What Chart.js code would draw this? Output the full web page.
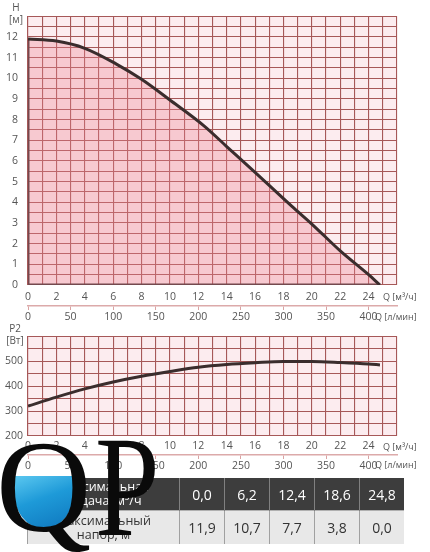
<!DOCTYPE html>
<html><head><meta charset="utf-8">
<script src="https://cdn.jsdelivr.net/npm/chart.js@4"></script>
<style>
html,body{margin:0;padding:0;background:#fff;width:430px;height:552px;overflow:hidden;font-family:"Open Sans",sans-serif;}
#wrap{position:relative;width:430px;height:552px;}
canvas{position:absolute;left:0;}
#c1{top:0;}
#c2{top:325px;}
.lbl{position:absolute;font-size:10px;color:#555;white-space:nowrap;line-height:12px;}
.unit{font-size:9px;}
.ctr{text-align:center;width:30px;}
#tbl{position:absolute;left:27px;top:478px;border-collapse:collapse;table-layout:fixed;}
#tbl td{padding:0;text-align:center;font-size:14px;}
#tbl td.lab{width:151px;font-size:12.5px;line-height:14px;}
#tbl td.v{width:44px;}
#tbl tr.dark td{background:#3d3d3d;color:#fff;height:32px;border-left:1px solid #808080;}
#tbl tr.light td{background:#e8e8e8;color:#333;height:33px;border-left:1px solid #a0a0a0;border-top:1px solid #b0b0b0;}
#logo{position:absolute;left:0;top:0;width:430px;height:552px;pointer-events:none;}
#water{position:absolute;left:13px;top:447px;width:62px;height:82px;border-radius:50%;overflow:hidden;}
#water div{position:absolute;left:0;top:29px;width:62px;height:60px;background:linear-gradient(160deg,#5cc8f0 0%,#1e9ad8 40%,#0b6fb8 100%);}
.glyph{position:absolute;font-family:"Liberation Serif","DejaVu Serif",serif;color:#0a0a0a;transform-origin:0 0;}
#lq{left:-4px;top:421px;font-size:132px;line-height:132px;}
#lp{left:95px;top:414px;font-size:145px;line-height:145px;transform:scaleX(0.8);}
</style></head>
<body><div id="wrap">
<canvas id="c1" width="430" height="325"></canvas>
<canvas id="c2" width="430" height="150"></canvas>

<div class="lbl ctr" style="left:1px;top:1px;">H</div>
<div class="lbl ctr" style="left:1px;top:13px;">[м]</div>
<div class="lbl unit" style="left:383px;top:291px;">Q [м³/ч]</div>
<div class="lbl unit" style="left:375px;top:311px;">Q [л/мин]</div>
<div class="lbl ctr" style="left:0px;top:322px;">P2</div>
<div class="lbl ctr" style="left:0px;top:334px;">[Вт]</div>
<div class="lbl unit" style="left:383px;top:441px;">Q [м³/ч]</div>
<div class="lbl unit" style="left:375px;top:459px;">Q [л/мин]</div>

<table id="tbl">
<tr class="dark"><td class="lab">Максимальная<br>подача, м³/ч</td><td class="v" id="f0"></td><td class="v" id="f1"></td><td class="v" id="f2"></td><td class="v" id="f3"></td><td class="v" id="f4"></td></tr>
<tr class="light"><td class="lab">Максимальный<br>напор, м</td><td class="v" id="h0"></td><td class="v" id="h1"></td><td class="v" id="h2"></td><td class="v" id="h3"></td><td class="v" id="h4"></td></tr>
</table>

<div id="logo">
<div id="water"><div></div></div>
<span class="glyph" id="lq">Q</span><span class="glyph" id="lp">P</span>
</div>
</div>
<script>
// ---- data ----
const qFlow = [0, 2, 4, 6.2, 8, 10, 12.4, 14, 16, 18.6, 20, 22, 24, 24.8];
const head  = [11.9, 11.8, 11.45, 10.7, 9.95, 8.95, 7.7, 6.7, 5.45, 3.8, 2.95, 1.65, 0.5, 0];
const qPower = [0, 2, 4, 6, 8, 10, 12, 14, 16, 18, 20, 22, 24, 24.8];
const power  = [320, 356, 389, 417, 440, 459, 476, 487, 494, 499, 499, 495, 489, 485];
const lpmTicks = [0, 50, 100, 150, 200, 250, 300, 350, 400];
const tableFlow = ['0,0', '6,2', '12,4', '18,6', '24,8'];
const tableHead = ['11,9', '10,7', '7,7', '3,8', '0,0'];
const qMax = 26;             // m3/h
const lpmPerM3h = 1000 / 60; // l/min per m3/h

tableFlow.forEach((v, i) => document.getElementById('f' + i).textContent = v);
tableHead.forEach((v, i) => document.getElementById('h' + i).textContent = v);

const GRID = '#a65858';
const TICK = '#555';
const FONT = {family: '"Open Sans", sans-serif', size: 10.5};

const bgPlugin = {
  id: 'bg',
  beforeDraw(chart) {
    const {ctx, chartArea: a} = chart;
    ctx.save();
    ctx.fillStyle = '#fcecef';
    ctx.fillRect(a.left, a.top, a.right - a.left, a.bottom - a.top);
    ctx.restore();
  }
};

function xScales(xTickPad, x2Height, xHeight) {
  return {
    x: {
      type: 'linear', min: 0, max: qMax,
      ticks: {stepSize: 1, autoSkip: false, maxRotation: 0, padding: xTickPad, color: TICK, font: FONT,
        callback: v => (v % 2 === 0 && v <= 24) ? v : ''},
      grid: {color: GRID, lineWidth: 1.1, drawTicks: false},
      border: {color: GRID, width: 1.1},
      afterFit(s) { s.height = xHeight; }
    },
    x2: {
      type: 'linear', position: 'bottom', min: 0, max: qMax * lpmPerM3h,
      afterBuildTicks(s) { s.ticks = lpmTicks.map(v => ({value: v})); },
      ticks: {autoSkip: false, maxRotation: 0, padding: 1, color: TICK, font: FONT},
      grid: {drawOnChartArea: false, drawTicks: true, tickLength: 4, color: '#d9a3a3'},
      border: {color: '#dcaaaa', width: 1.5},
      afterFit(s) { s.height = x2Height; }
    }
  };
}

// ---- chart 1: head ----
new Chart(document.getElementById('c1'), {
  type: 'scatter',
  data: {
    datasets: [
      {
        data: qFlow.map((q, i) => ({x: q, y: head[i]})),
        showLine: true, borderColor: '#3a2d2d', borderWidth: 3, pointRadius: 0,
        cubicInterpolationMode: 'monotone',
        fill: 'origin', backgroundColor: 'rgba(238,130,145,0.33)'
      },
      {
        data: [{x: qFlow[0], y: 0}, {x: qFlow[0], y: head[0]}],
        showLine: true, borderColor: '#3a2d2d', borderWidth: 3, pointRadius: 0, fill: false
      },
      {
        data: [{x: qFlow[0], y: 0}, {x: qFlow[qFlow.length - 1], y: 0}],
        showLine: true, borderColor: '#3a2d2d', borderWidth: 3, pointRadius: 0, fill: false
      }
    ]
  },
  options: {
    responsive: false, animation: false,
    layout: {padding: {top: 11, left: 0, right: 33, bottom: 0}},
    plugins: {legend: {display: false}, tooltip: {enabled: false}},
    scales: Object.assign(xScales(6, 19, 21), {
      y: {
        type: 'linear', min: 0, max: 13,
        ticks: {stepSize: 0.5, autoSkip: false, padding: 10, color: TICK, font: FONT,
          callback: v => (Number.isInteger(v) && v <= 12) ? v : ''},
        grid: {color: GRID, lineWidth: 1.1, drawTicks: false},
        border: {color: GRID, width: 1.1},
        afterFit(s) { s.width = 28; }
      }
    })
  },
  plugins: [bgPlugin]
});

// ---- chart 2: power ----
new Chart(document.getElementById('c2'), {
  type: 'scatter',
  data: {
    datasets: [{
      data: qPower.map((q, i) => ({x: q, y: power[i]})),
      showLine: true, borderColor: '#3a2d2d', borderWidth: 3, pointRadius: 0,
      cubicInterpolationMode: 'monotone', fill: false
    }]
  },
  options: {
    responsive: false, animation: false,
    layout: {padding: {top: 4, left: 0, right: 33, bottom: 0}},
    plugins: {legend: {display: false}, tooltip: {enabled: false}},
    scales: Object.assign(xScales(4, 20, 19), {
      y: {
        type: 'linear', min: 200, max: 600,
        ticks: {stepSize: 50, autoSkip: false, padding: 5, color: TICK, font: FONT,
          callback: v => (v % 100 === 0 && v <= 500) ? v : ''},
        grid: {color: GRID, lineWidth: 1.1, drawTicks: false},
        border: {color: GRID, width: 1.1},
        afterFit(s) { s.width = 28; }
      }
    })
  },
  plugins: [bgPlugin]
});
</script>
</body></html>
